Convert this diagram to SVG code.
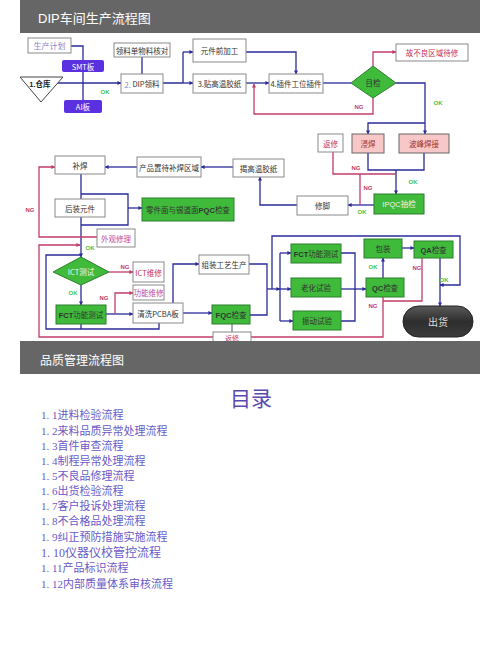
<svg xmlns="http://www.w3.org/2000/svg" width="500" height="653" viewBox="0 0 500 653">
<defs>
<style>
text{font-family:"Noto Sans CJK SC","Liberation Sans",sans-serif;text-anchor:middle;dominant-baseline:central}
.bx{fill:#fff;stroke:#8a8a8a;stroke-width:1}
.gr{fill:#3fba3a;stroke:#2f7f2f;stroke-width:1}
.pk{fill:#f8c8c8;stroke:#666;stroke-width:1}
.t{font-size:7.5px;fill:#333}
.tw{font-size:7.5px;fill:#fff}
.tr{font-size:7.5px;fill:#c8325a}
.tm{font-size:7.5px;fill:#c04a9a}
.b{font-family:"Liberation Sans","Noto Sans CJK SC",sans-serif;font-weight:bold}
.ok{font-family:"Liberation Sans",sans-serif;font-size:6px;fill:#4cc04c;font-weight:bold}
.ng{font-family:"Liberation Sans",sans-serif;font-size:6px;fill:#c23c6a;font-weight:bold}
.bl{fill:none;stroke:#2b2b9b;stroke-width:1.3}
.rd{fill:none;stroke:#c23c6a;stroke-width:1.3}
.gy{fill:none;stroke:#555;stroke-width:1}
.ab{marker-end:url(#ab)}
.ar{marker-end:url(#ar)}
.li{font-family:"Liberation Serif","Noto Sans CJK SC",serif;font-size:11px;fill:#6a5ac8;text-anchor:start}
</style>
<marker id="ab" viewBox="0 0 10 10" refX="9" refY="5" markerWidth="4" markerHeight="4" orient="auto" markerUnits="userSpaceOnUse"><path d="M0,0L10,5L0,10z" fill="#2b2b9b"/></marker>
<marker id="ar" viewBox="0 0 10 10" refX="9" refY="5" markerWidth="4" markerHeight="4" orient="auto" markerUnits="userSpaceOnUse"><path d="M0,0L10,5L0,10z" fill="#c23c6a"/></marker>
<linearGradient id="pill" x1="0" y1="0" x2="0" y2="1"><stop offset="0" stop-color="#5a5a5a"/><stop offset="0.5" stop-color="#2e2e2e"/><stop offset="1" stop-color="#3c3c3c"/></linearGradient>
</defs>
<rect width="500" height="653" fill="#fff"/>
<g id="header1"><rect x="20" y="0" width="460" height="33" fill="#666"/><text x="38" y="18" style="font-size:13px;fill:#fff;text-anchor:start;font-family:'Liberation Sans','Noto Sans CJK SC',sans-serif">DIP车间生产流程图</text></g>

<g id="connectors">
<path class="bl" d="M71,46H83V100"/>
<path class="bl ab" d="M57,83H121"/>
<path class="bl" d="M142,57V74"/>
<path class="bl" d="M163,83H183M183,52V83"/>
<path class="bl ab" d="M183,52H193"/>
<path class="bl ab" d="M183,83H193"/>
<path class="bl ab" d="M246,52H296V74"/>
<path class="bl ab" d="M246,83H269"/>
<path class="bl" d="M323,83H351"/>
<path class="bl ab" d="M396,83H425V134"/>
<path class="bl ab" d="M425,123H368V134"/>
<path class="bl" d="M368,153V170H424V153"/>
<path class="bl ab" d="M396,170V194"/>
<path class="bl ab" d="M374,205H348"/>
<path class="bl ab" d="M297,205H260V177"/>
<path class="bl ab" d="M233,167H201"/>
<path class="bl ab" d="M137,167H105"/>
<path class="bl" d="M81,174V199M81,194H128V225H81"/>
<path class="bl ab" d="M128,208H142"/>
<path class="bl ab" d="M81,217V257"/>
<path class="bl" d="M81,255H46V329H159V323M81,324V329"/>
<path class="bl ab" d="M81,285V305"/>
<path class="bl ab" d="M106,314H133"/>
<path class="bl ab" d="M173,303V264H199"/>
<path class="bl ab" d="M183,313H212"/>
<path class="bl" d="M249,264H267V315H250"/>
<path class="bl ab" d="M267,289H280"/>
<path class="bl" d="M280,253V321"/>
<path class="bl ab" d="M280,253H291"/>
<path class="bl ab" d="M280,289H291"/>
<path class="bl ab" d="M280,321H293"/>
<path class="bl ab" d="M272,289V236H460V285H440"/>
<path class="bl" d="M341,253H355V321H341"/>
<path class="bl ab" d="M341,289H366"/>
<path class="bl ab" d="M383,278V258"/>
<path class="bl ab" d="M402,248H414"/>
<path class="bl ab" d="M440,258V306"/>
<path class="gy" d="M232,324V332"/>
<path class="rd ar" d="M373,66V52H396"/>
<path class="rd ar" d="M373,98V114H254V84"/>
<path class="rd" d="M333,152V174H396M360,174V205"/>
<path class="rd ar" d="M97,237H39V167H55"/>
<path class="rd ar" d="M213,337H39V245H80"/>
<path class="rd" d="M251,337H383V297"/>
<path class="rd" d="M422,258V301H383"/>
<path class="rd ar" d="M109,272H133"/>
<path class="rd ar" d="M115,314V293H133"/>
</g>

<g id="n-plan"><rect class="bx" x="28" y="38" width="43" height="15"/><text x="49.5" y="45.5" style="font-size:8px;fill:#8888cc">生产计划</text></g>
<g id="n-smt"><rect x="62" y="60" width="42" height="12" rx="2" fill="#5b30e0"/><text class="tw" x="83" y="66">SMT板</text></g>
<g id="n-ai"><rect x="64" y="100" width="38" height="13" rx="2" fill="#5b30e0"/><text class="tw" x="83" y="106.5">AI板</text></g>
<g id="n-store"><polygon points="20,77 63,77 41,102" fill="#fff" stroke="#444" stroke-width="1"/><text class="t b" x="40" y="84" style="font-size:7.5px;fill:#222">1.仓库</text></g>
<g id="n-check"><rect class="bx" x="114" y="43" width="56" height="14"/><text class="t" x="142" y="50">领料单物料核对</text></g>
<g id="n-dip"><rect class="bx" x="121" y="74" width="42" height="19"/><text class="t" x="142" y="83.5"><tspan fill="#8888cc">2.</tspan> DIP领料</text></g>
<g id="n-pre"><rect class="bx" x="193" y="39" width="53" height="23"/><text class="t" x="219.5" y="50.5">元件前加工</text></g>
<g id="n-tape"><rect class="bx" x="193" y="74" width="53" height="19"/><text class="t" x="219.5" y="83.5">3.贴高温胶纸</text></g>
<g id="n-insert"><rect class="bx" x="269" y="74" width="54" height="19"/><text class="t" x="296" y="83.5">4.插件工位插件</text></g>
<g id="n-visual"><polygon points="351,83 373,66 396,83 373,98" class="gr"/><text class="t" x="373" y="82">目检</text></g>
<g id="n-bad"><rect class="bx" x="396" y="44" width="72" height="17"/><text class="tr" x="432" y="52.5">故不良区域待修</text></g>
<g id="n-dip2"><rect class="pk" x="352" y="134" width="32" height="19"/><text class="t" x="368" y="143.5" style="fill:#a03030">浸焊</text></g>
<g id="n-wave"><rect class="pk" x="399" y="134" width="50" height="19"/><text class="t" x="424" y="143.5" style="fill:#a03030">波峰焊接</text></g>
<g id="n-rework1"><rect class="bx" x="318" y="134" width="25" height="18"/><text class="tr" x="330.5" y="143">返修</text></g>
<g id="n-ipqc"><rect class="gr" x="374" y="194" width="50" height="20"/><text class="tw b" x="399" y="204" style="font-weight:normal;fill:#f0f0f0">IPQC抽检</text></g>
<g id="n-trim"><rect class="bx" x="297" y="196" width="51" height="19"/><text class="t" x="322.5" y="205.5">修脚</text></g>
<g id="n-peel"><rect class="bx" x="233" y="159" width="51" height="18"/><text class="t" x="258.5" y="168">揭高温胶纸</text></g>
<g id="n-area"><rect class="bx" x="137" y="157" width="64" height="20"/><text class="t" x="169" y="167">产品置待补焊区域</text></g>
<g id="n-repair"><rect class="bx" x="55" y="156" width="50" height="18"/><text class="t" x="80" y="165">补焊</text></g>
<g id="n-post"><rect class="bx" x="55" y="199" width="50" height="18"/><text class="t" x="80" y="208">后装元件</text></g>
<g id="n-pqc"><rect class="gr" x="142" y="198" width="92" height="23"/><text class="t" x="188" y="209.5">零件面与锡道面<tspan class="b">PQC</tspan>检查</text></g>
<g id="n-look"><rect class="bx" x="97" y="229" width="38" height="18"/><text class="tm" x="116" y="238">外观修理</text></g>
<g id="n-ict"><polygon points="53,272 81,257 109,272 81,285" class="gr"/><text class="tw" x="81" y="271" style="fill:#f4f4f4">ICT测试</text></g>
<g id="n-ictfix"><rect class="bx" x="133" y="262" width="31" height="20"/><text class="tr" x="148.5" y="272">ICT维修</text></g>
<g id="n-fctfix"><rect class="bx" x="133" y="285" width="31" height="15"/><text class="tm" x="148.5" y="292.5">功能维修</text></g>
<g id="n-fct1"><rect class="gr" x="56" y="305" width="50" height="19"/><text class="t" x="81" y="314.5"><tspan class="b">FCT</tspan>功能测试</text></g>
<g id="n-clean"><rect class="bx" x="133" y="303" width="50" height="20"/><text class="t" x="158" y="313">清洗PCBA板</text></g>
<g id="n-assy"><rect class="bx" x="199" y="255" width="50" height="19"/><text class="t" x="224" y="264.5">组装工艺生产</text></g>
<g id="n-fqc"><rect class="gr" x="212" y="305" width="38" height="19"/><text class="t" x="231" y="314.5"><tspan class="b">FQC</tspan>检查</text></g>
<g id="n-rework2"><rect class="bx" x="213" y="332" width="38" height="14"/><text class="tr" x="232" y="338" style="font-size:7px">返修</text></g>
<g id="n-fct2"><rect class="gr" x="291" y="244" width="50" height="19"/><text class="t" x="316" y="253.5"><tspan class="b">FCT</tspan>功能测试</text></g>
<g id="n-aging"><rect class="gr" x="291" y="278" width="50" height="19"/><text class="t" x="316" y="287.5">老化试验</text></g>
<g id="n-vib"><rect class="gr" x="293" y="311" width="48" height="19"/><text class="t" x="317" y="320.5">振动试验</text></g>
<g id="n-qc"><rect class="gr" x="366" y="278" width="38" height="19"/><text class="t" x="385" y="287.5"><tspan class="b">QC</tspan>检查</text></g>
<g id="n-pack"><rect class="gr" x="364" y="239" width="38" height="19"/><text class="t" x="383" y="248.5">包装</text></g>
<g id="n-qa"><rect class="gr" x="414" y="241" width="39" height="17"/><text class="t" x="433.5" y="249.5"><tspan class="b">QA</tspan>检查</text></g>
<g id="n-ship"><rect x="403" y="306" width="70" height="31" rx="15.5" fill="url(#pill)" stroke="#222"/><text x="438" y="321.5" style="font-size:10px;fill:#ddd">出货</text></g>

<g id="labels">
<text class="ok" x="105" y="92">OK</text>
<text class="ok" x="438" y="103">OK</text>
<text class="ok" x="413" y="182">OK</text>
<text class="ok" x="362" y="212">OK</text>
<text class="ok" x="90" y="248">OK</text>
<text class="ok" x="73" y="293">OK</text>
<text class="ok" x="373" y="267">OK</text>
<text class="ok" x="444" y="280">OK</text>
<text class="ng" x="359" y="107">NG</text>
<text class="ng" x="356" y="168">NG</text>
<text class="ng" x="368" y="188">NG</text>
<text class="ng" x="30" y="210">NG</text>
<text class="ng" x="125" y="267">NG</text>
<text class="ng" x="104" y="298">NG</text>
<text class="ng" x="417" y="268">NG</text>
<text class="ng" x="373" y="306">NG</text>
</g>

<g id="header2"><rect x="20" y="341" width="460" height="33" fill="#666"/><text x="40" y="359" style="font-size:12px;fill:#fff;text-anchor:start;font-family:'Noto Sans CJK SC',sans-serif">品质管理流程图</text></g>
<g id="toc">
<text x="251" y="397" style="font-size:21px;fill:#5a4ab0;font-family:'Noto Sans CJK SC',sans-serif">目录</text>
<text class="li" x="41" y="415">1. 1进料检验流程</text>
<text class="li" x="41" y="431">1. 2来料品质异常处理流程</text>
<text class="li" x="41" y="446">1. 3首件审查流程</text>
<text class="li" x="41" y="461">1. 4制程异常处理流程</text>
<text class="li" x="41" y="476">1. 5不良品修理流程</text>
<text class="li" x="41" y="491">1. 6出货检验流程</text>
<text class="li" x="41" y="506">1. 7客户投诉处理流程</text>
<text class="li" x="41" y="521">1. 8不合格品处理流程</text>
<text class="li" x="41" y="537">1. 9纠正预防措施实施流程</text>
<text class="li" x="41" y="553" style="font-size:12px">1. 10仪器仪校管控流程</text>
<text class="li" x="41" y="568">1. 11产品标识流程</text>
<text class="li" x="41" y="584">1. 12内部质量体系审核流程</text>
</g>
</svg>
